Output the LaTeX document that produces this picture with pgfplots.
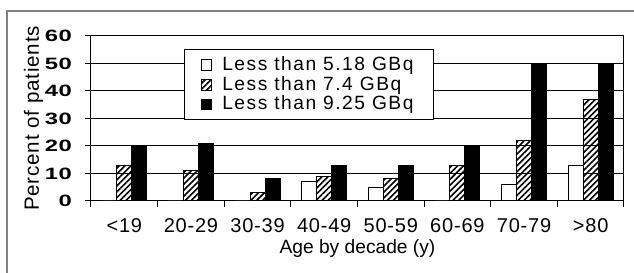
\documentclass[border=0pt]{standalone}
\usepackage{fontspec}
\setmainfont{Liberation Sans}
\newfontfamily\spaced[LetterSpace=4]{Liberation Sans}
\newfontfamily\legfont[LetterSpace=8]{Liberation Sans}
\newfontfamily\wide[FakeStretch=1.45, LetterSpace=4]{Liberation Sans Bold}
\usepackage{pgfplots}
\pgfplotsset{compat=1.18}
\usetikzlibrary{patterns.meta}
\begin{document}
\begin{tikzpicture}
\path[use as bounding box] (0pt,0pt) rectangle (317pt,136.5pt);
\draw[gray, line width=0.6pt] (3.5pt,-2pt) -- (3.5pt,131pt) -- (320pt,131pt);
\begin{axis}[
  at={(45.5pt,36pt)}, anchor=south west,
  scale only axis, width=266.5pt, height=82.5pt,
  /pgf/number format/assume math mode=true,
  ymin=0, ymax=60, ytick={0,10,...,60},
  xmin=-0.5, xmax=7.5,
  xtick={-0.5,0.5,...,7.5},
  x tick label as interval,
  xticklabels={{<19},{20-29},{30-39},{40-49},{50-59},{60-69},{70-79},{>80}},
  xtick pos=bottom, ytick pos=left,
  tick align=outside, major tick length=3pt,
  tick style={black, line width=0.5pt},
  ymajorgrids, grid style={black, line width=0.5pt},
  axis line style={line width=0.5pt},
  ybar, bar width=0.225,
  xticklabel style={font=\spaced\fontsize{10}{11}\selectfont, yshift=-2.3pt},
  yticklabel style={font=\wide\fontsize{8.2}{9}\selectfont, xshift=-3pt},
  ylabel={Percent of patients},
  ylabel style={font=\spaced\fontsize{10.3}{11}\selectfont, at={(axis description cs:-0.108,0.5)}, anchor=center},
  xlabel={Age by decade (y)},
  xlabel style={font=\fontsize{9.6}{11}\selectfont, at={(axis description cs:0.5,-0.29)}, anchor=center},
  legend style={at={(0.1745,0.921)}, anchor=north west, draw=black, line width=0.5pt,
    font=\legfont\fontsize{9.6}{8.5}\selectfont, inner xsep=8pt, inner ysep=1.5pt, row sep=-2.6pt,
    cells={anchor=west},
    /tikz/every odd column/.append style={column sep=3pt}},
  legend cell align=left,
  legend image code/.code={\draw[#1, line width=0.5pt] (0pt,-2.7pt) rectangle (5.4pt,2.7pt);},
]
\addplot[draw=black, fill=white, bar shift=-0.225, line width=0.5pt] coordinates
  {(0,0) (1,0) (2,0) (3,7) (4,5) (5,0) (6,6) (7,13)};
\addplot[draw=black, pattern={Lines[angle=45, distance=2.1pt, line width=0.8pt]}, bar shift=0, line width=0.5pt] coordinates
  {(0,13) (1,11) (2,3) (3,9) (4,8) (5,13) (6,22) (7,37)};
\addplot[draw=black, fill=black, bar shift=0.225, line width=0.5pt] coordinates
  {(0,20) (1,21) (2,8) (3,13) (4,13) (5,20) (6,50) (7,50)};
\legend{Less than 5.18 GBq, Less than 7.4 GBq, Less than 9.25 GBq}
\end{axis}
\end{tikzpicture}
\end{document}
